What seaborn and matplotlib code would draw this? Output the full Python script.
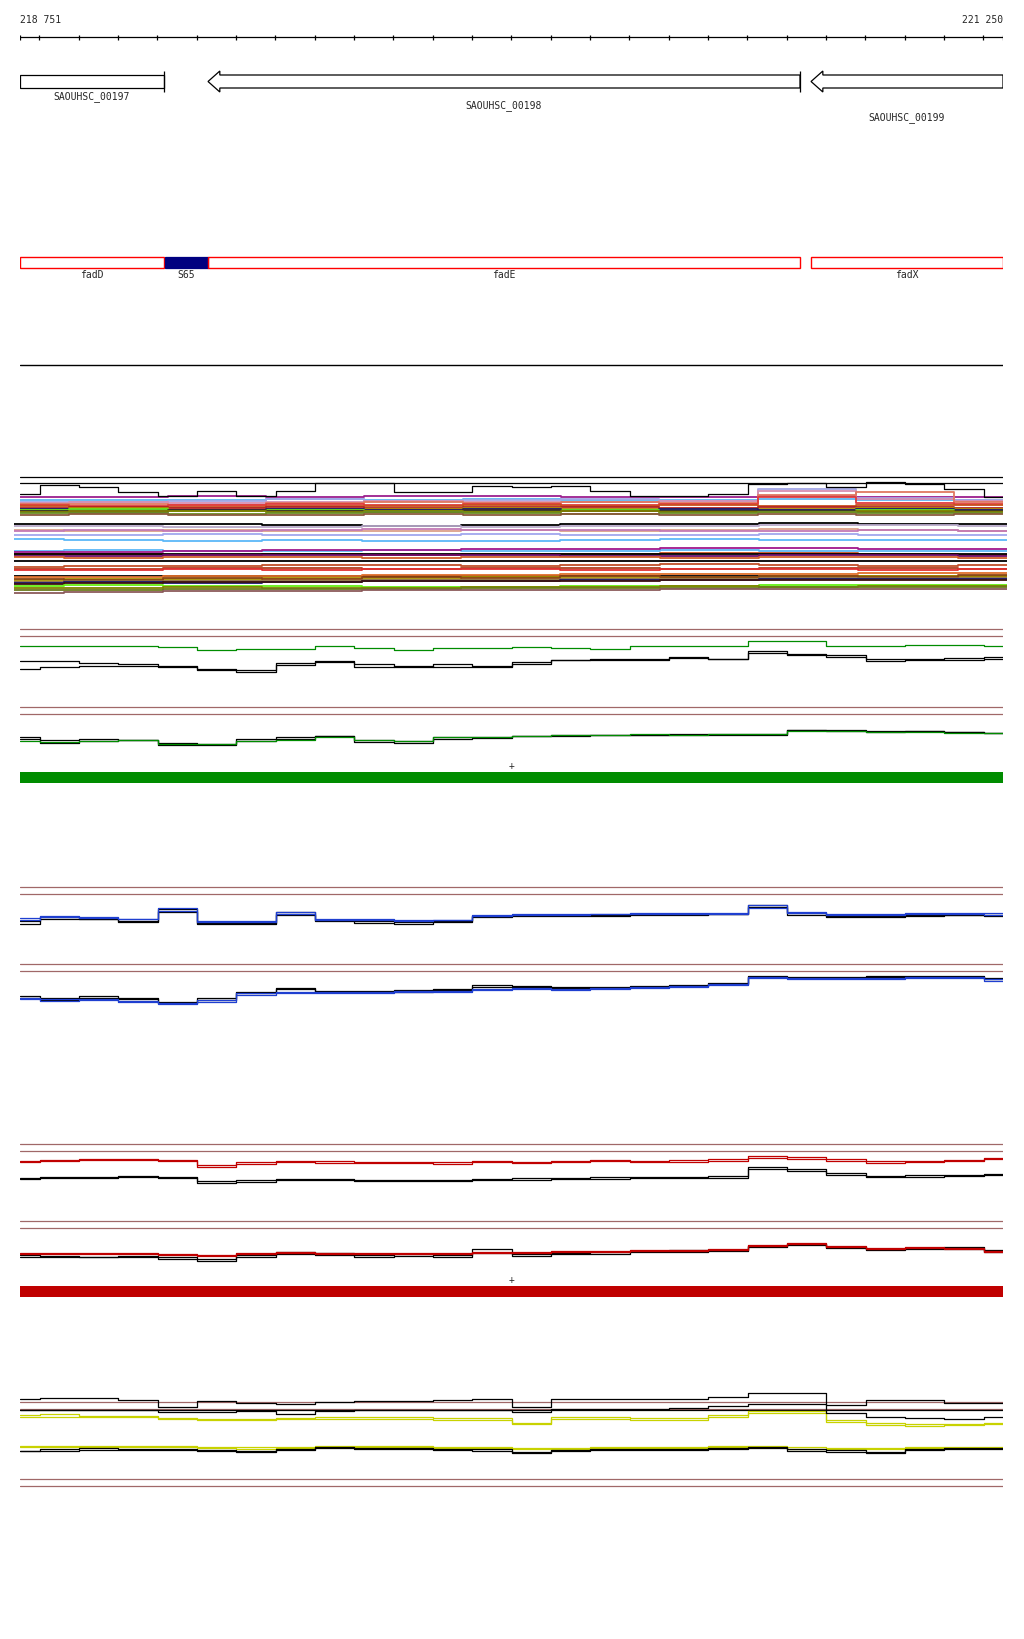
import matplotlib

matplotlib.use("Agg")
import matplotlib.pyplot as plt
import seaborn as sns

VIEW_START = 218751
VIEW_END = 221250

# sample positions of the expression profiles (bp)
positions = [218751, 218851, 218951, 219051, 219151, 219251, 219351, 219451, 219551,
             219651, 219751, 219851, 219951, 220051, 220151, 220251, 220351, 220451,
             220551, 220651, 220751, 220851, 220951, 221051, 221151, 221250]
coarse_positions = [218751, 219001, 219251, 219501, 219751, 220001, 220251, 220501,
                    220751, 221001, 221250]

gene_names = ["SAOUHSC_00197", "SAOUHSC_00198", "SAOUHSC_00199"]
gene_starts = [217900, 219229, 220762]
gene_ends = [219117, 220734, 221820]

feature_names = ["fadD", "S65", "fadE", "fadX"]
feature_starts = [217900, 219119, 219229, 220762]
feature_ends = [219117, 219229, 220734, 221820]
feature_is_srna = [False, True, False, False]

# all-conditions overview (depth below panel top, larger = lower)
overview_black = [25, 16, 18, 23, 27, 22, 27, 22, 14, 14, 23, 23, 17, 18, 17, 22, 27, 27, 25, 15, 14, 18, 13, 15, 20, 28]
overview_refs = [8, 14]
upper_colors = ["#9c1f8e", "#5fb4f2", "#a3a6e6", "#d68fb2", "#e07860", "#e03c3c", "#c9501e", "#b22222",
                "#b08a00", "#191970", "#66e01e", "#3a2a2a", "#808000", "#6b8e23", "#8b5a3c"]
upper_values = [
    [28, 28, 27, 28, 27, 27, 28, 28, 27, 28, 28],
    [31, 31, 31, 30, 31, 30, 31, 31, 30, 31, 31],
    [33, 33, 32, 30, 32, 31, 30, 32, 20, 29, 31],
    [34, 33, 34, 33, 32, 33, 33, 32, 22, 30, 32],
    [35, 35, 36, 34, 33, 34, 33, 34, 26, 23, 33],
    [36, 37, 36, 35, 36, 35, 36, 35, 28, 34, 35],
    [37, 38, 38, 37, 37, 36, 37, 36, 37, 36, 36],
    [39, 38, 39, 38, 39, 38, 38, 39, 38, 38, 39],
    [40, 39, 41, 40, 40, 39, 40, 41, 40, 39, 40],
    [40, 41, 41, 40, 41, 40, 41, 40, 41, 40, 41],
    [41, 40, 42, 41, 42, 42, 41, 42, 42, 41, 42],
    [42, 43, 41, 42, 43, 41, 42, 42, 42, 43, 42],
    [43, 42, 42, 43, 42, 43, 42, 43, 43, 42, 43],
    [44, 44, 45, 44, 43, 44, 45, 44, 43, 44, 44],
    [46, 45, 46, 46, 45, 46, 45, 46, 45, 46, 45],
]
middle_colors = ["black", "#b7a9c9", "#dca08a", "#c47ab5", "#a1a7ee", "#5cb8f8", "#5cb8f8", "#a0188c",
                 "#c9501e", "black", "#6a0a6a", "#d0602a", "black", "#c0502a", "#b04020", "#e03030", "black"]
middle_values = [
    [55, 55, 55, 56, 57, 56, 55, 55, 54, 55, 55],
    [57, 57, 58, 58, 57, 58, 57, 57, 56, 56, 57],
    [61, 62, 61, 62, 62, 61, 62, 61, 60, 61, 62],
    [62, 61, 62, 61, 60, 61, 61, 62, 62, 61, 62],
    [66, 66, 65, 66, 66, 65, 66, 66, 65, 66, 66],
    [70, 71, 72, 71, 72, 72, 71, 70, 71, 71, 71],
    [82, 81, 82, 82, 81, 82, 82, 81, 82, 82, 82],
    [83, 83, 82, 81, 81, 80, 80, 79, 79, 80, 80],
    [85, 85, 86, 85, 86, 85, 85, 84, 84, 85, 86],
    [85, 85, 85, 85, 85, 85, 85, 85, 85, 85, 85],
    [87, 87, 86, 86, 86, 86, 87, 87, 86, 86, 87],
    [88, 89, 88, 88, 89, 88, 88, 89, 88, 88, 89],
    [92, 92, 92, 92, 92, 92, 92, 92, 92, 92, 92],
    [98, 97, 97, 96, 96, 97, 96, 95, 96, 97, 96],
    [100, 100, 99, 99, 100, 99, 99, 100, 99, 99, 100],
    [101, 101, 100, 101, 100, 100, 101, 100, 100, 101, 100],
    [107, 107, 107, 107, 107, 107, 107, 107, 107, 107, 107],
]
lower_colors = ["#e0702a", "#a89000", "#8b4513", "#8b6b3c", "#1a1a6e", "#3c1010", "#66ee11",
                "#808000", "#6b7b1b", "#8b5a5a"]
lower_values = [
    [108, 108, 107, 107, 106, 106, 105, 105, 105, 104, 104],
    [111, 110, 110, 109, 109, 108, 108, 108, 107, 107, 107],
    [110, 111, 109, 110, 108, 109, 107, 108, 107, 108, 106],
    [113, 112, 112, 112, 111, 111, 110, 110, 109, 109, 109],
    [114, 113, 114, 113, 112, 112, 111, 111, 110, 110, 110],
    [115, 114, 113, 113, 112, 112, 112, 111, 111, 111, 111],
    [117, 116, 117, 117, 118, 118, 117, 117, 116, 116, 116],
    [119, 119, 118, 119, 119, 118, 118, 117, 118, 117, 117],
    [121, 121, 120, 120, 120, 119, 119, 119, 118, 118, 118],
    [124, 123, 122, 122, 121, 121, 121, 120, 120, 120, 120],
]

# condition tracks (depth below the upper reference line)
a1_green = [17, 17, 17, 17, 18, 21, 20, 20, 17, 19, 21, 19, 19, 18, 19, 20, 17, 17, 17, 12, 12, 17, 17, 16, 16, 17]
a1_black_1 = [32, 32, 34, 35, 38, 40, 41, 34, 32, 35, 38, 35, 37, 33, 31, 30, 30, 28, 30, 22, 25, 26, 30, 30, 29, 28]
a1_black_2 = [40, 38, 37, 37, 37, 41, 43, 36, 33, 38, 37, 38, 38, 35, 31, 31, 31, 29, 30, 24, 26, 28, 32, 31, 31, 30]
a2_black_1 = [30, 33, 32, 33, 36, 37, 32, 30, 29, 33, 34, 30, 30, 29, 28, 28, 28, 27, 27, 27, 23, 23, 24, 24, 25, 26]
a2_black_2 = [32, 36, 34, 33, 38, 38, 34, 32, 29, 35, 36, 32, 31, 29, 29, 28, 28, 28, 28, 28, 23, 24, 25, 24, 25, 26]
a2_green = [34, 35, 34, 33, 37, 37, 34, 33, 30, 33, 34, 30, 30, 29, 28, 28, 27, 28, 27, 27, 24, 24, 25, 25, 26, 26]

b1_blue_1 = [31, 29, 30, 32, 21, 34, 34, 25, 32, 32, 33, 33, 28, 27, 27, 27, 26, 26, 26, 18, 25, 27, 27, 26, 26, 26]
b1_blue_2 = [33, 30, 31, 32, 24, 35, 35, 27, 33, 33, 34, 33, 29, 28, 28, 27, 27, 27, 27, 21, 26, 28, 28, 27, 27, 28]
b1_black_1 = [34, 30, 32, 34, 22, 36, 36, 25, 33, 34, 35, 34, 29, 28, 28, 28, 27, 27, 27, 18, 26, 29, 29, 28, 28, 28]
b1_black_2 = [37, 32, 32, 35, 25, 37, 37, 28, 34, 36, 37, 35, 30, 29, 29, 29, 28, 28, 27, 20, 28, 30, 30, 29, 28, 29]
b2_blue_1 = [34, 35, 35, 37, 39, 36, 29, 28, 28, 28, 27, 27, 25, 24, 25, 24, 23, 22, 20, 13, 14, 14, 14, 13, 13, 15]
b2_blue_2 = [35, 37, 36, 38, 40, 38, 31, 29, 29, 29, 28, 28, 26, 25, 26, 25, 24, 23, 21, 14, 15, 15, 15, 14, 14, 17]
b2_black_1 = [32, 34, 32, 34, 38, 34, 28, 25, 27, 27, 26, 25, 21, 22, 23, 23, 22, 21, 19, 12, 13, 13, 12, 12, 12, 14]
b2_black_2 = [34, 36, 34, 35, 39, 36, 29, 24, 28, 28, 28, 26, 23, 23, 24, 24, 23, 22, 20, 13, 14, 14, 13, 13, 13, 15]

c1_red_1 = [17, 16, 15, 15, 16, 21, 18, 17, 17, 18, 18, 18, 17, 18, 17, 16, 17, 16, 15, 12, 13, 15, 17, 17, 16, 14]
c1_red_2 = [18, 17, 16, 16, 17, 23, 20, 18, 19, 19, 19, 20, 18, 19, 18, 17, 18, 18, 17, 14, 15, 17, 19, 18, 17, 15]
c1_black_1 = [34, 33, 33, 32, 33, 37, 36, 35, 35, 36, 36, 36, 35, 34, 34, 33, 33, 33, 32, 23, 25, 29, 32, 31, 31, 30]
c1_black_2 = [35, 34, 34, 33, 34, 39, 38, 36, 36, 37, 37, 37, 36, 36, 35, 35, 34, 34, 34, 25, 27, 31, 33, 33, 32, 31]
c2_red_1 = [32, 32, 32, 32, 33, 34, 32, 31, 32, 32, 32, 32, 31, 31, 30, 30, 29, 29, 28, 24, 22, 25, 27, 26, 27, 30]
c2_red_2 = [33, 33, 33, 33, 34, 35, 33, 32, 33, 33, 33, 33, 32, 32, 31, 31, 30, 30, 29, 25, 23, 26, 28, 27, 28, 31]
c2_black_1 = [34, 35, 36, 35, 36, 38, 34, 31, 32, 34, 33, 34, 28, 33, 32, 31, 30, 29, 29, 25, 23, 26, 28, 27, 26, 29]
c2_black_2 = [36, 36, 36, 36, 38, 40, 36, 33, 34, 36, 35, 36, 32, 35, 33, 33, 31, 31, 30, 26, 24, 27, 29, 28, 28, 31]

d1_black_1 = [-3, -4, -4, -2, 5, -1, 1, 2, 0, -1, -1, -2, -3, 5, -3, -3, -3, -3, -5, -9, -9, 3, -2, -2, 1, 1]
d1_black_2 = [8, 8, 8, 8, 10, 10, 9, 12, 9, 8, 8, 8, 8, 10, 7, 7, 7, 6, 4, 2, 2, 11, 15, 16, 17, 15]
d1_black_3 = [8, 8, 8, 8, 8, 8, 8, 8, 8, 8, 8, 8, 8, 8, 8, 8, 8, 8, 8, 8, 8, 8, 8, 8, 8, 8]
d1_yellow_1 = [13, 12, 14, 14, 16, 17, 17, 16, 15, 15, 15, 16, 16, 21, 15, 15, 16, 16, 13, 9, 9, 18, 21, 22, 22, 21]
d1_yellow_2 = [15, 15, 15, 15, 17, 18, 18, 17, 17, 17, 17, 18, 18, 22, 17, 17, 18, 18, 15, 11, 11, 20, 23, 24, 23, 22]
d1_yellow_3 = [44, 44, 44, 44, 44, 45, 45, 45, 44, 44, 44, 45, 45, 46, 46, 45, 45, 45, 44, 44, 45, 46, 46, 45, 45, 45]
d1_yellow_4 = [45, 45, 45, 45, 45, 46, 47, 46, 45, 45, 45, 46, 46, 47, 47, 46, 46, 46, 45, 45, 47, 47, 47, 46, 46, 46]
d1_black_4 = [49, 47, 46, 47, 47, 48, 49, 47, 45, 46, 46, 47, 47, 50, 48, 47, 47, 47, 46, 45, 47, 48, 50, 47, 46, 46]
d1_black_5 = [49, 49, 48, 48, 48, 49, 50, 48, 46, 47, 47, 48, 49, 51, 49, 48, 48, 48, 47, 46, 49, 50, 51, 48, 47, 47]

# ---- drawing ----------------------------------------------------------------
W, H = 1024, 1640
LEFT, RIGHT = 20, 1003
BROWN = "#a06868"
GREEN = "#008c00"
BLUE = "#1f3fd0"
RED = "#c00000"
YELLOW = "#c8d200"

sns.set_style("white")
plt.rcParams["font.family"] = ["DejaVu Sans Mono", "DejaVu Sans"]
plt.rcParams["font.size"] = 7

fig = plt.figure(figsize=(W / 100, H / 100), dpi=100)


def panel(top, y0, y1, x0=LEFT, x1=RIGHT):
    ax = fig.add_axes([x0 / W, 1 - y1 / H, (x1 - x0) / W, (y1 - y0) / H])
    ax.set_axis_off()
    ax.set_xlim(VIEW_START, VIEW_END)
    ax.set_ylim(y1 - top, y0 - top)
    return ax


def profile(ax, xs, ys, color, lw=0.9):
    sns.lineplot(x=xs, y=ys, color=color, linewidth=lw, drawstyle="steps-mid",
                 estimator=None, sort=False, legend=False, ax=ax)


def track(top, y0, y1, lines, refs=(0, 7)):
    ax = panel(top, y0, y1)
    for ref in refs:
        ax.axhline(ref, color=BROWN, lw=0.9)
    for ys, color in lines:
        profile(ax, positions, ys, color)
    ax.set_xlim(VIEW_START, VIEW_END)
    ax.set_ylim(y1 - top, y0 - top)
    ax.set_axis_off()
    return ax


def fmt(v):
    return f"{v:,}".replace(",", " ")


# ruler
ax = panel(10, 10, 46)
ax.axhline(28, color="black", lw=0.9)
ticks = [VIEW_START] + list(range(218800, VIEW_END, 100)) + [VIEW_END]
ax.vlines(ticks, 26, 31, color="black", lw=0.9)
ax.text(VIEW_START, 10, fmt(VIEW_START), ha="left", va="center")
ax.text(VIEW_END, 10, fmt(VIEW_END), ha="right", va="center")

# genes
ax = panel(60, 60, 130)
head = 30
label_depth = [37, 46, 58]
for i, name in enumerate(gene_names):
    s = max(gene_starts[i], VIEW_START)
    e = min(gene_ends[i], VIEW_END)
    if gene_starts[i] >= VIEW_START:
        xs = [s, s + head, s + head, e, e, s + head, s + head, s]
        ys = [22.5, 12, 16, 16, 29, 29, 33, 22.5]
    else:
        xs = [s, e, e, s, s]
        ys = [16, 16, 29, 29, 16]
    ax.fill(xs, ys, facecolor="white", edgecolor="black", lw=0.9)
    if gene_ends[i] <= VIEW_END:
        ax.vlines(e, 12, 33, color="black", lw=0.9)
    ax.text((s + e) / 2, label_depth[i], name, ha="center", va="center")
ax.set_xlim(VIEW_START, VIEW_END)
ax.set_ylim(70, 0)

# annotation row + separator
ax = panel(250, 250, 372)
for i, name in enumerate(feature_names):
    s = max(feature_starts[i], VIEW_START)
    e = min(feature_ends[i], VIEW_END)
    if feature_is_srna[i]:
        ax.fill([s, e, e, s], [8, 8, 19, 19], facecolor="#000080", edgecolor="#000080", lw=0.9)
    else:
        ax.fill([s, e, e, s], [8, 8, 19, 19], facecolor="none", edgecolor="#ff0000", lw=1.0)
    ax.text((s + e) / 2, 25.5, name, ha="center", va="center")
ax.axhline(116, color="black", lw=1.0)
ax.set_xlim(VIEW_START, VIEW_END)
ax.set_ylim(122, 0)

# overview of all conditions
ax = panel(470, 470, 522)
for ref in overview_refs:
    ax.axhline(ref, color="black", lw=0.9)
for color, ys in zip(upper_colors, upper_values):
    profile(ax, coarse_positions, ys, color, lw=1.3)
profile(ax, positions, overview_black, "black")
ax.set_xlim(VIEW_START, VIEW_END)
ax.set_ylim(52, 0)

ax = panel(470, 520, 605, x0=14, x1=1007)
for color, ys in zip(middle_colors + lower_colors, middle_values + lower_values):
    profile(ax, coarse_positions, ys, color, lw=1.3)
ax.set_xlim(VIEW_START, VIEW_END)
ax.set_ylim(135, 50)

# condition tracks
track(630, 620, 706, [(a1_green, GREEN), (a1_black_1, "black"), (a1_black_2, "black")])
track(708, 706, 758, [(a2_black_1, "black"), (a2_black_2, "black"), (a2_green, GREEN)])
track(888, 878, 962, [(b1_black_1, "black"), (b1_black_2, "black"), (b1_blue_1, BLUE), (b1_blue_2, BLUE)])
track(965, 962, 1030, [(b2_black_1, "black"), (b2_black_2, "black"), (b2_blue_1, BLUE), (b2_blue_2, BLUE)])
track(1145, 1135, 1215, [(c1_red_1, RED), (c1_red_2, RED), (c1_black_1, "black"), (c1_black_2, "black")])
track(1222, 1215, 1272, [(c2_black_1, "black"), (c2_black_2, "black"), (c2_red_1, RED), (c2_red_2, RED)])
track(1403, 1385, 1470, [(d1_black_3, "black"), (d1_yellow_1, YELLOW), (d1_yellow_2, YELLOW),
                         (d1_black_1, "black"), (d1_black_2, "black"), (d1_yellow_3, YELLOW),
                         (d1_yellow_4, YELLOW), (d1_black_4, "black"), (d1_black_5, "black")])
track(1480, 1470, 1500, [])

# strand bars
for top, color in [(760, GREEN), (1274, RED)]:
    ax = panel(top, top, top + 30)
    ax.text((VIEW_START + VIEW_END) / 2, 6, "+", ha="center", va="center")
    ax.fill_between([VIEW_START, VIEW_END], 13, 24, color=color, lw=0)
    ax.set_xlim(VIEW_START, VIEW_END)
    ax.set_ylim(30, 0)

fig.savefig("out.png", dpi=100, facecolor="white")
